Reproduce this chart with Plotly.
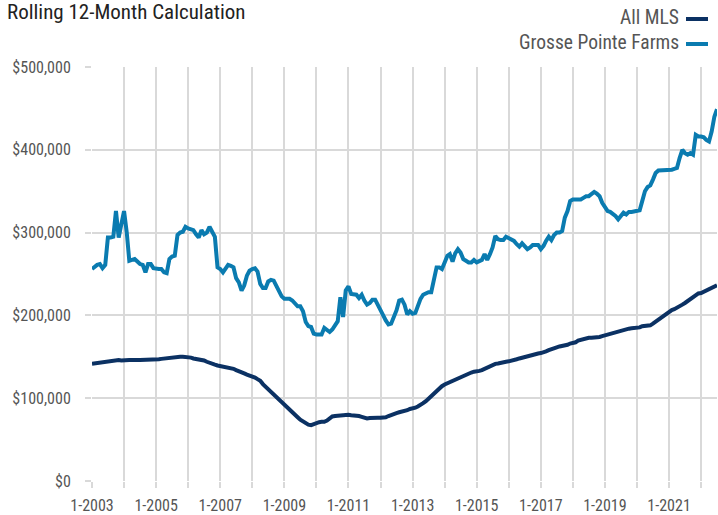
import pandas as pd
import plotly.graph_objects as go

# Monthly values, Jan 2003 - Jul 2022 (in $ thousands)
grosse_pointe_farms = [
    # 2003
    256, 259, 261, 262, 257, 261, 294, 294, 295, 326, 294, 310,
    # 2004
    326, 300, 266, 267, 268, 265, 262, 261, 252, 262, 262, 257,
    # 2005
    256, 256, 256, 252, 251, 268, 271, 272, 297, 300, 301, 307,
    # 2006
    305, 304, 303, 298, 294, 303, 298, 300, 307, 301, 295, 258,
    # 2007
    256, 252, 256, 261, 260, 258, 245, 240, 230, 236, 248, 254,
    # 2008
    256, 257, 253, 238, 233, 233, 241, 243, 242, 236, 230, 223,
    # 2009
    220, 220, 220, 218, 214, 211, 211, 205, 192, 187, 186, 178,
    # 2010
    177, 177, 177, 185, 182, 180, 183, 188, 193, 222, 198, 230,
    # 2011
    235, 226, 226, 225, 221, 225, 218, 213, 215, 219, 219, 212,
    # 2012
    206, 200, 194, 189, 190, 198, 206, 218, 219, 213, 201, 205,
    # 2013
    202, 203, 212, 220, 225, 227, 228, 228, 245, 258, 258, 256,
    # 2014
    264, 272, 274, 265, 275, 280, 276, 268, 266, 264, 264, 267,
    # 2015
    264, 265, 267, 274, 267, 274, 282, 296, 292, 291, 291, 295,
    # 2016
    293, 291, 290, 286, 283, 287, 283, 280, 282, 285, 285, 285,
    # 2017
    280, 284, 290, 295, 291, 297, 300, 300, 302, 318, 326, 338,
    # 2018
    340, 340, 340, 340, 342, 344, 344, 346, 349, 347, 344, 336,
    # 2019
    330, 326, 325, 323, 320, 316, 320, 324, 322, 325, 325, 326,
    # 2020
    326, 327, 338, 350, 355, 357, 364, 372, 375, 375, 375, 376,
    # 2021
    376, 376, 377, 378, 390, 400, 396, 394, 396, 394, 418, 416,
    # 2022
    416, 415, 412, 410, 422, 440, 449,
]

all_mls = [
    # 2003
    141.5, 142, 142.5, 143, 143.5, 144, 145, 145.5, 146, 146, 146, 145.5,
    # 2004
    146, 145.5, 146, 146, 146.5, 146, 146, 146, 146.5, 146, 146, 146,
    # 2005
    146.5, 147, 147.5, 148, 148.5, 148.5, 149, 149.5, 149.5, 150, 150, 150,
    # 2006
    149.5, 149, 148, 147.5, 147, 146.5, 145.5, 144, 142.5, 141.5, 140.5, 139.5,
    # 2007
    139, 138.5, 137.5, 136.5, 136, 135.5, 134, 133, 131.5, 130, 128.5, 127.5,
    # 2008
    126.5, 125, 123, 121, 117, 114, 111, 107.5, 104.5, 101, 98, 95,
    # 2009
    92, 89, 86.5, 83.5, 80, 77, 74, 71.5, 69.5, 68, 67.5, 69,
    # 2010
    70.5, 71, 71.5, 71.5, 73, 76, 78, 78.5, 79, 79.5, 80, 80,
    # 2011
    80, 79.5, 79.5, 79, 78.5, 77.5, 76.5, 75.5, 76, 76.5, 76.5, 76.5,
    # 2012
    76.5, 76.5, 77, 78.5, 80, 81, 82, 83, 83.5, 84.5, 85.5, 87,
    # 2013
    87.5, 88.5, 90, 91.5, 94, 96.5, 99.5, 102, 105.5, 109, 112, 114.5,
    # 2014
    116.5, 118, 119.5, 121, 122.5, 124, 126, 127.5, 129, 130.5, 131, 132,
    # 2015
    132, 133, 134, 135.5, 137.5, 139, 140.5, 141.5, 142, 143, 143.5, 144,
    # 2016
    144.5, 145, 146, 147, 148, 149, 149.5, 150.5, 151.5, 152.5, 153, 154,
    # 2017
    154.5, 155, 156.5, 158, 159.5, 160.5, 161.5, 162.5, 163, 163.5, 164.5, 166,
    # 2018
    166.5, 167.5, 169.5, 170.5, 171, 172, 173, 173, 173, 173.5, 174, 175,
    # 2019
    176, 177, 177.5, 178.5, 179, 180, 181, 182.5, 183.5, 184, 184.5, 185,
    # 2020
    184.5, 185.5, 187, 187.5, 188, 188, 190, 192.5, 195, 197.5, 200, 202,
    # 2021
    204, 206.5, 207.5, 209, 210.5, 213, 215, 217.5, 220, 222.5, 225, 226.5,
    # 2022
    227, 228.5, 230.5, 232, 232.5, 234, 236.5,
]

dates = pd.date_range("2003-01-01", periods=len(all_mls), freq="MS")
tick_years = list(range(2003, 2023))
tick_vals = [f"{y}-01-01" for y in tick_years]
tick_text = [f"1-{y}" if (y - 2003) % 2 == 0 and y <= 2021 else "" for y in tick_years]
y_tick_vals = [0, 100000, 200000, 300000, 400000, 500000]
y_tick_text = ["$0", "$100,000", "$200,000", "$300,000", "$400,000", "$500,000"]

navy = "#0b3163"
blue = "#0a7bb0"
grid = "#d9d9d9"
font_family = "Liberation Sans Narrow, Roboto Condensed, Arial Narrow, Liberation Sans, sans-serif"

fig = go.Figure()
fig.add_trace(go.Scatter(x=dates, y=[v * 1000 for v in all_mls], mode="lines",
                         line=dict(color=navy, width=4), name="All MLS"))
fig.add_trace(go.Scatter(x=dates, y=[v * 1000 for v in grosse_pointe_farms], mode="lines",
                         line=dict(color=blue, width=4), name="Grosse Pointe Farms"))

W, H = 718, 515
L, R, T, B = 92, 1, 67, 34
pw, ph = W - L - R, H - T - B

def px(x):
    return (x - L) / pw

def py(y):
    return (H - B - y) / ph

fig.update_layout(
    width=W, height=H,
    margin=dict(l=L, r=R, t=T, b=B),
    paper_bgcolor="white", plot_bgcolor="white",
    showlegend=False,
    font=dict(family=font_family, size=16, color="#555555"),
    xaxis=dict(
        range=["2003-01-01", "2022-07-01"],
        tickvals=tick_vals, ticktext=tick_text,
        showgrid=True, gridcolor=grid, gridwidth=2,
        ticks="outside", ticklen=6, tickcolor=grid, tickwidth=2,
        ticklabelstandoff=4,
        showline=False, zeroline=False, automargin=False,
        tickfont=dict(size=16, color="#555555"),
    ),
    yaxis=dict(
        range=[0, 500000],
        tickvals=y_tick_vals, ticktext=y_tick_text,
        showgrid=True, gridcolor=grid, gridwidth=2,
        ticks="outside", ticklen=6, tickcolor=grid, tickwidth=2,
        ticklabelstandoff=11,
        showline=False, zeroline=False, automargin=False,
        tickfont=dict(size=16, color="#555555"),
    ),
)

fig.add_annotation(text="Rolling 12-Month Calculation", xref="paper", yref="paper",
                   x=px(5), y=py(12), xanchor="left", yanchor="middle", showarrow=False,
                   font=dict(size=21, color="#222222", family=font_family))

legend_items = [("All MLS", navy, 18), ("Grosse Pointe Farms", blue, 43)]
for label, color, yy in legend_items:
    fig.add_annotation(text=label, xref="paper", yref="paper",
                       x=px(681), y=py(yy), xanchor="right", yanchor="middle", showarrow=False,
                       font=dict(size=19.5, color="#555555", family=font_family))
    fig.add_shape(type="line", xref="paper", yref="paper",
                  x0=px(686), x1=px(708), y0=py(yy + 1), y1=py(yy + 1),
                  line=dict(color=color, width=4))

fig.write_html("out.html", config={"displayModeBar": False},
               post_script="document.body.style.margin='0';")
